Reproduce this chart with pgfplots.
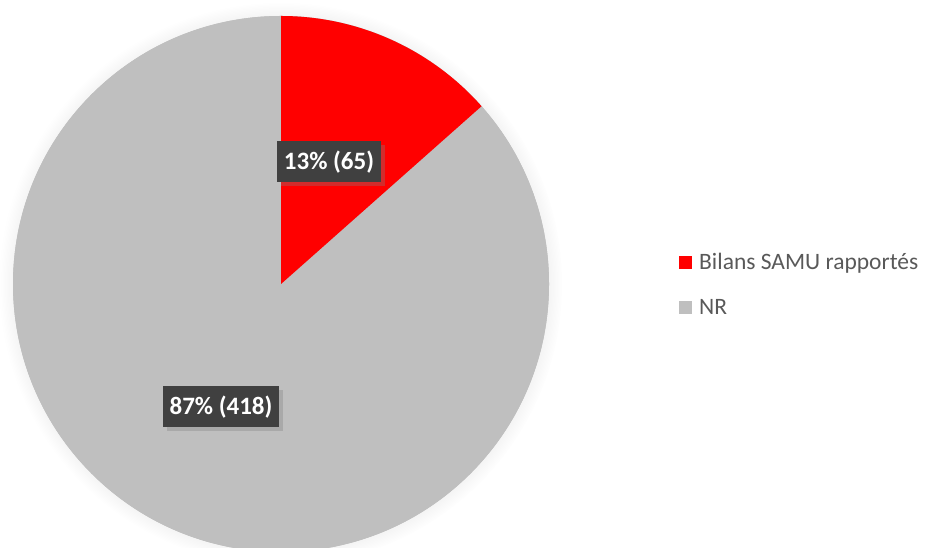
\documentclass[border=0pt]{standalone}
\usepackage{fontspec}
\setmainfont{Carlito}
\usepackage{pgfplots}
\pgfplotsset{compat=1.18}
\usetikzlibrary{shadows}
\definecolor{pieRed}{RGB}{255,0,0}
\definecolor{pieGrey}{RGB}{191,191,191}
\definecolor{lblBg}{RGB}{64,64,64}
\definecolor{legText}{RGB}{89,89,89}
\begin{document}
\begin{tikzpicture}
\begin{axis}[
  x=1pt, y=1pt, xmin=0, xmax=925, ymin=0, ymax=548,
  scale only axis, hide axis, clip=true,
  legend style={at={(axis cs:679,296)}, anchor=north west, draw=none, fill=none,
    font=\fontsize{23.5}{27}\selectfont, text=legText, row sep=26pt, inner sep=0pt,
    nodes={inner sep=1pt},
    /tikz/every odd column/.append style={column sep=6pt}},
  legend cell align=left,
  legend image code/.code={\fill[#1] (0pt,-6.5pt) rectangle (13pt,6.5pt);},
]
\addlegendimage{fill=pieRed, draw=none}
\addlegendentry{Bilans SAMU rapportés}
\addlegendimage{fill=pieGrey, draw=none}
\addlegendentry{NR}
% data
\pgfmathsetmacro{\valA}{65}
\pgfmathsetmacro{\valB}{418}
\pgfmathsetmacro{\fracA}{\valA/(\valA+\valB)}
\pgfmathsetmacro{\aEnd}{90-360*\fracA}
% soft glow behind pie
\fill[pieGrey, circular drop shadow={shadow xshift=0pt, shadow yshift=0pt, shadow scale=1.05, opacity=0.25}]
  (axis cs:281,264) circle[radius=268];
\fill[pieGrey] (axis cs:281,264) -- (axis cs:281,532) arc[start angle=90, end angle=\aEnd-360, radius=268] -- cycle;
\fill[pieRed] (axis cs:281,264) -- (axis cs:281,532) arc[start angle=90, end angle=\aEnd, radius=268] -- cycle;
\node[fill=lblBg, text=white, font=\bfseries\fontsize{25}{27}\selectfont,
  minimum height=41pt, inner xsep=7pt,
  drop shadow={shadow xshift=4pt, shadow yshift=-4pt, opacity=0.35}]
  at (axis cs:329,386) {13\% (65)};
\node[fill=lblBg, text=white, font=\bfseries\fontsize{25}{27}\selectfont,
  minimum height=41pt, inner xsep=7pt,
  drop shadow={shadow xshift=4pt, shadow yshift=-4pt, opacity=0.35}]
  at (axis cs:221,141) {87\% (418)};
\end{axis}
\pgfresetboundingbox
\path (0,0) rectangle (925pt,548pt);
\end{tikzpicture}
\end{document}
